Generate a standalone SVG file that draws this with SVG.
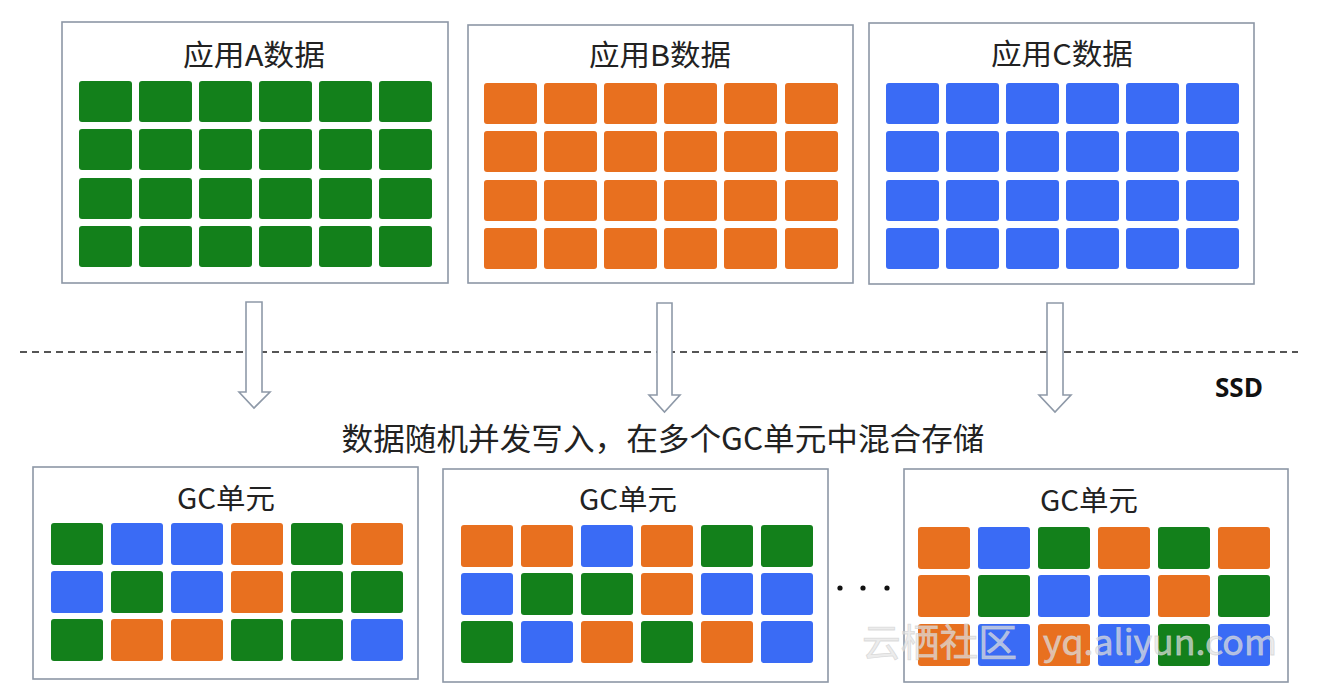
<svg xmlns="http://www.w3.org/2000/svg" width="1318" height="700" viewBox="0 0 1318 700">
<style>
.box{fill:#fff;stroke:#8d97a6;stroke-width:1.6}
.t{font-family:"Noto Sans CJK SC","Liberation Sans",sans-serif;fill:#222;text-anchor:middle}
.g{fill:#13801b}
.o{fill:#e8701f}
.b{fill:#3a6bf5}
.arrow{fill:#fff;stroke:#8e99a8;stroke-width:1.6;stroke-linejoin:miter}
.wm{font-family:"Noto Sans CJK SC","Liberation Sans",sans-serif;fill:#e4e4e4;fill-opacity:0.7}
</style>
<defs>
<rect id="tt" width="53" height="41" rx="3"/>
<rect id="gt" width="52" height="42" rx="3"/>
</defs>
<rect width="1318" height="700" fill="#fff"/>

<g id="appA">
<rect class="box" x="62" y="22" width="386" height="261"/>
<text class="t" x="254" y="66" font-size="29" textLength="142" lengthAdjust="spacingAndGlyphs">应用A数据</text>
<g class="g">
<use href="#tt" x="79" y="81"/><use href="#tt" x="139" y="81"/><use href="#tt" x="199" y="81"/><use href="#tt" x="259" y="81"/><use href="#tt" x="319" y="81"/><use href="#tt" x="379" y="81"/>
<use href="#tt" x="79" y="129"/><use href="#tt" x="139" y="129"/><use href="#tt" x="199" y="129"/><use href="#tt" x="259" y="129"/><use href="#tt" x="319" y="129"/><use href="#tt" x="379" y="129"/>
<use href="#tt" x="79" y="178"/><use href="#tt" x="139" y="178"/><use href="#tt" x="199" y="178"/><use href="#tt" x="259" y="178"/><use href="#tt" x="319" y="178"/><use href="#tt" x="379" y="178"/>
<use href="#tt" x="79" y="226"/><use href="#tt" x="139" y="226"/><use href="#tt" x="199" y="226"/><use href="#tt" x="259" y="226"/><use href="#tt" x="319" y="226"/><use href="#tt" x="379" y="226"/>
</g>
</g>

<g id="appB">
<rect class="box" x="468" y="25" width="385" height="258"/>
<text class="t" x="660" y="66" font-size="29" textLength="142" lengthAdjust="spacingAndGlyphs">应用B数据</text>
<g class="o">
<use href="#tt" x="484" y="83"/><use href="#tt" x="544" y="83"/><use href="#tt" x="604" y="83"/><use href="#tt" x="664" y="83"/><use href="#tt" x="724" y="83"/><use href="#tt" x="785" y="83"/>
<use href="#tt" x="484" y="131"/><use href="#tt" x="544" y="131"/><use href="#tt" x="604" y="131"/><use href="#tt" x="664" y="131"/><use href="#tt" x="724" y="131"/><use href="#tt" x="785" y="131"/>
<use href="#tt" x="484" y="180"/><use href="#tt" x="544" y="180"/><use href="#tt" x="604" y="180"/><use href="#tt" x="664" y="180"/><use href="#tt" x="724" y="180"/><use href="#tt" x="785" y="180"/>
<use href="#tt" x="484" y="228"/><use href="#tt" x="544" y="228"/><use href="#tt" x="604" y="228"/><use href="#tt" x="664" y="228"/><use href="#tt" x="724" y="228"/><use href="#tt" x="785" y="228"/>
</g>
</g>

<g id="appC">
<rect class="box" x="869" y="23" width="385" height="261"/>
<text class="t" x="1062" y="65" font-size="29" textLength="142" lengthAdjust="spacingAndGlyphs">应用C数据</text>
<g class="b">
<use href="#tt" x="886" y="83"/><use href="#tt" x="946" y="83"/><use href="#tt" x="1006" y="83"/><use href="#tt" x="1066" y="83"/><use href="#tt" x="1126" y="83"/><use href="#tt" x="1186" y="83"/>
<use href="#tt" x="886" y="131"/><use href="#tt" x="946" y="131"/><use href="#tt" x="1006" y="131"/><use href="#tt" x="1066" y="131"/><use href="#tt" x="1126" y="131"/><use href="#tt" x="1186" y="131"/>
<use href="#tt" x="886" y="180"/><use href="#tt" x="946" y="180"/><use href="#tt" x="1006" y="180"/><use href="#tt" x="1066" y="180"/><use href="#tt" x="1126" y="180"/><use href="#tt" x="1186" y="180"/>
<use href="#tt" x="886" y="228"/><use href="#tt" x="946" y="228"/><use href="#tt" x="1006" y="228"/><use href="#tt" x="1066" y="228"/><use href="#tt" x="1126" y="228"/><use href="#tt" x="1186" y="228"/>
</g>
</g>

<g id="ssd-boundary">
<line x1="20" y1="352" x2="1298" y2="352" stroke="#555" stroke-width="1.8" stroke-dasharray="7 5"/>
<text x="1239" y="397" font-family="'Open Sans','Liberation Sans',sans-serif" font-weight="bold" font-size="26" fill="#111" text-anchor="middle" textLength="48" lengthAdjust="spacingAndGlyphs">SSD</text>
</g>

<g id="connectors">
<path class="arrow" d="M246,302 H262 V392 H270 L254,408 L239,392 H246 Z"/>
<path class="arrow" d="M657,303 H672 V395 H680 L664.5,412 L649,395 H657 Z"/>
<path class="arrow" d="M1047,303 H1063 V395 H1071 L1055,412 L1039,395 H1047 Z"/>
</g>

<text id="caption" class="t" x="663" y="450" font-size="31" textLength="643" lengthAdjust="spacingAndGlyphs">数据随机并发写入，在多个GC单元中混合存储</text>

<g id="gc1">
<rect class="box" x="33" y="467" width="385" height="212"/>
<text class="t" x="226" y="509" font-size="28" textLength="98" lengthAdjust="spacingAndGlyphs">GC单元</text>
<use href="#gt" class="g" x="51" y="523"/><use href="#gt" class="b" x="111" y="523"/><use href="#gt" class="b" x="171" y="523"/><use href="#gt" class="o" x="231" y="523"/><use href="#gt" class="g" x="291" y="523"/><use href="#gt" class="o" x="351" y="523"/>
<use href="#gt" class="b" x="51" y="571"/><use href="#gt" class="g" x="111" y="571"/><use href="#gt" class="b" x="171" y="571"/><use href="#gt" class="o" x="231" y="571"/><use href="#gt" class="g" x="291" y="571"/><use href="#gt" class="g" x="351" y="571"/>
<use href="#gt" class="g" x="51" y="619"/><use href="#gt" class="o" x="111" y="619"/><use href="#gt" class="o" x="171" y="619"/><use href="#gt" class="g" x="231" y="619"/><use href="#gt" class="g" x="291" y="619"/><use href="#gt" class="b" x="351" y="619"/>
</g>

<g id="gc2">
<rect class="box" x="443" y="469" width="385" height="213"/>
<text class="t" x="628" y="510" font-size="28" textLength="98" lengthAdjust="spacingAndGlyphs">GC单元</text>
<use href="#gt" class="o" x="461" y="525"/><use href="#gt" class="o" x="521" y="525"/><use href="#gt" class="b" x="581" y="525"/><use href="#gt" class="o" x="641" y="525"/><use href="#gt" class="g" x="701" y="525"/><use href="#gt" class="g" x="761" y="525"/>
<use href="#gt" class="b" x="461" y="573"/><use href="#gt" class="g" x="521" y="573"/><use href="#gt" class="g" x="581" y="573"/><use href="#gt" class="o" x="641" y="573"/><use href="#gt" class="b" x="701" y="573"/><use href="#gt" class="b" x="761" y="573"/>
<use href="#gt" class="g" x="461" y="621"/><use href="#gt" class="b" x="521" y="621"/><use href="#gt" class="o" x="581" y="621"/><use href="#gt" class="g" x="641" y="621"/><use href="#gt" class="o" x="701" y="621"/><use href="#gt" class="b" x="761" y="621"/>
</g>

<g id="ellipsis" fill="#111">
<circle cx="840" cy="588" r="2.6"/><circle cx="863" cy="588" r="2.6"/><circle cx="887" cy="588" r="2.6"/>
</g>

<g id="gc3">
<rect class="box" x="904" y="469" width="384" height="213"/>
<text class="t" x="1089" y="511" font-size="28" textLength="98" lengthAdjust="spacingAndGlyphs">GC单元</text>
<use href="#gt" class="o" x="918" y="527"/><use href="#gt" class="b" x="978" y="527"/><use href="#gt" class="g" x="1038" y="527"/><use href="#gt" class="o" x="1098" y="527"/><use href="#gt" class="g" x="1158" y="527"/><use href="#gt" class="o" x="1218" y="527"/>
<use href="#gt" class="o" x="918" y="575"/><use href="#gt" class="g" x="978" y="575"/><use href="#gt" class="b" x="1038" y="575"/><use href="#gt" class="b" x="1098" y="575"/><use href="#gt" class="o" x="1158" y="575"/><use href="#gt" class="g" x="1218" y="575"/>
<use href="#gt" class="o" x="918" y="624"/><use href="#gt" class="b" x="978" y="624"/><use href="#gt" class="o" x="1038" y="624"/><use href="#gt" class="b" x="1098" y="624"/><use href="#gt" class="g" x="1158" y="624"/><use href="#gt" class="b" x="1218" y="624"/>
</g>

<g id="watermark">
<text class="wm" x="862" y="656" font-size="38" stroke="#d0d0d0" stroke-width="0.8" stroke-opacity="0.7" textLength="155" lengthAdjust="spacingAndGlyphs">云栖社区</text>
<text class="wm" x="1043" y="655" font-size="34" stroke="#d0d0d0" stroke-width="0.8" stroke-opacity="0.7" textLength="234" lengthAdjust="spacingAndGlyphs">yq.aliyun.com</text>
</g>
</svg>
